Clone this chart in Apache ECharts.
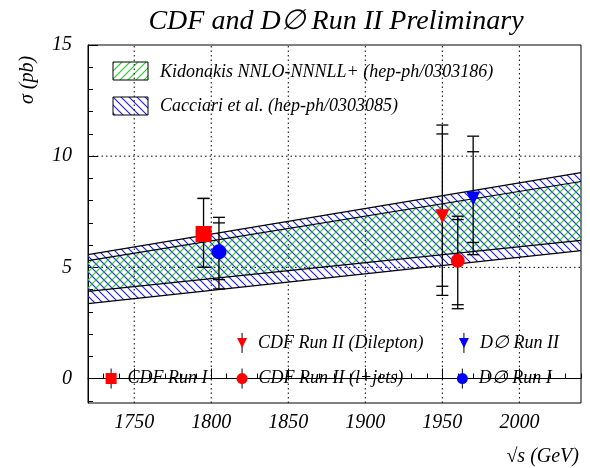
<!DOCTYPE html>
<html><head><meta charset="utf-8">
<script src="https://cdn.jsdelivr.net/npm/echarts@6/dist/echarts.min.js"></script>
<style>html,body{margin:0;padding:0;background:#fff}#c{width:590px;height:468px}</style>
</head><body><div id="c"></div>
<script>
const bandX = [1720, 2040];
const cacciariLow = [3.37, 5.75];
const cacciariHigh = [5.57, 9.26];
const kidonakisLow = [3.92, 6.21];
const kidonakisHigh = [5.30, 8.86];
// [x, y, totalLow, statLow, statHigh, totalHigh]
const cdfRun1 = [[1795, 6.5, 5.0, 5.0, 8.1, 8.1]];
const d0Run1 = [[1805, 5.7, 4.03, 4.45, 7.0, 7.25]];
const cdfDilepton = [[1950, 7.3, 3.74, 4.15, 11.0, 11.4]];
const cdfLjets = [[1960, 5.3, 3.14, 3.32, 7.15, 7.3]];
const d0Run2 = [[1970, 8.1, 5.57, 6.12, 10.2, 10.9]];
const xTicks = [1750, 1800, 1850, 1900, 1950, 2000];
const yTicks = [0, 5, 10, 15];
const FONT = 'Liberation Serif';

function hatch(color, dir) {
  const c = document.createElement('canvas'); c.width = 8; c.height = 8;
  const g = c.getContext('2d'); g.strokeStyle = color; g.lineWidth = 1.1;
  g.beginPath();
  if (dir > 0) { g.moveTo(0, 0); g.lineTo(8, 8); g.moveTo(-4, 4); g.lineTo(4, 12); g.moveTo(4, -4); g.lineTo(12, 4); }
  else { g.moveTo(0, 8); g.lineTo(8, 0); g.moveTo(-4, 4); g.lineTo(4, -4); g.moveTo(4, 12); g.lineTo(12, 4); }
  g.stroke();
  return { type: 'pattern', image: c, repeat: 'repeat' };
}
const blueH = hatch('#1a1aff', 1);
const greenH = hatch('#20d020', -1);

function bandSeries(low, high, fill, z) {
  return { type: 'custom', z: z, silent: true, data: [0],
    renderItem: (p, api) => {
      const pts = [api.coord([bandX[0], low[0]]), api.coord([bandX[1], low[1]]),
                   api.coord([bandX[1], high[1]]), api.coord([bandX[0], high[0]])];
      return { type: 'group', children: [
        { type: 'polygon', shape: { points: pts }, style: { fill: fill, stroke: null } },
        { type: 'polyline', shape: { points: [pts[0], pts[1]] }, style: { stroke: '#000', lineWidth: 1.2, fill: null } },
        { type: 'polyline', shape: { points: [pts[3], pts[2]] }, style: { stroke: '#000', lineWidth: 1.2, fill: null } }
      ] };
    } };
}
function errSeries(data) {
  return { type: 'custom', z: 5, silent: true, data: data,
    renderItem: (p, api) => {
      const x = api.value(0);
      const top = api.coord([x, api.value(5)]), bot = api.coord([x, api.value(2)]);
      const ch = [{ type: 'line', shape: { x1: top[0], y1: top[1], x2: bot[0], y2: bot[1] }, style: { stroke: '#000', lineWidth: 1.3 } }];
      [2, 3, 4, 5].forEach(i => {
        const q = api.coord([x, api.value(i)]);
        ch.push({ type: 'line', shape: { x1: q[0] - 6, y1: q[1], x2: q[0] + 6, y2: q[1] }, style: { stroke: '#000', lineWidth: 1.3 } });
      });
      return { type: 'group', children: ch };
    } };
}
function pt(data, symbol, color, size, rot) {
  return { type: 'scatter', z: 10, data: data.map(d => [d[0], d[1]]), symbol: symbol, symbolSize: size,
    symbolRotate: rot || 0, itemStyle: { color: color, opacity: 1 }, silent: true };
}
function leg(x, y, symbol, color, size, rot, text) {
  return { type: 'scatter', z: 10, data: [[x, y]], symbol: symbol, symbolSize: size, symbolRotate: rot || 0,
    itemStyle: { color: color, opacity: 1 }, silent: true,
    label: { show: true, position: 'right', distance: 10, formatter: text, color: '#000',
      fontFamily: FONT, fontStyle: 'italic', fontSize: 18, padding: [0, 1] } };
}
const legErr = { type: 'custom', z: 9, silent: true, data: [[1735, 0], [1820, 0], [1963, 0], [1820, 1.6], [1964, 1.6]],
  renderItem: (p, api) => { const q = api.coord([api.value(0), api.value(1)]);
    return { type: 'line', shape: { x1: q[0], y1: q[1] - 10, x2: q[0], y2: q[1] + 10 }, style: { stroke: '#000', lineWidth: 1 } }; } };

const gridX = xTicks;
const gridY = [0, 5, 10];
const gridLines = { type: 'custom', z: 1, silent: true, data: [0],
  renderItem: (p, api) => {
    const ch = [];
    const dash = { stroke: '#000', lineWidth: 1, lineDash: [1.5, 3] };
    gridX.forEach(v => { const a = api.coord([v, -1.1]), b = api.coord([v, 15]);
      ch.push({ type: 'line', shape: { x1: a[0], y1: a[1], x2: b[0], y2: b[1] }, style: dash }); });
    gridY.forEach(v => { const a = api.coord([1720, v]), b = api.coord([2040, v]);
      ch.push({ type: 'line', shape: { x1: a[0], y1: a[1], x2: b[0], y2: b[1] }, style: dash }); });
    return { type: 'group', children: ch };
  } };

const chart = echarts.init(document.getElementById('c'));
chart.setOption({
  animation: false,
  title: { text: 'CDF and D∅ Run II Preliminary', left: 331, top: 3, textAlign: 'center',
    textStyle: { fontFamily: FONT, fontStyle: 'italic', fontWeight: 'normal', fontSize: 28, color: '#000' } },
  grid: { left: 88, right: 9, top: 45, bottom: 65, show: true, borderColor: '#000', borderWidth: 1, backgroundColor: 'transparent', containLabel: false, outerBoundsMode: 'none' },
  xAxis: [
    { type: 'value', min: 1720, max: 2040, splitLine: { show: false },
      axisLine: { lineStyle: { color: '#000' } },
      axisTick: { inside: true, length: 10, customValues: xTicks, lineStyle: { color: '#000' } },
      axisLabel: { customValues: xTicks, formatter: v => String(v), fontFamily: FONT, fontStyle: 'italic', fontSize: 20, color: '#000', margin: 10 } },
    { type: 'value', min: 1720, max: 2040, position: 'bottom', gridIndex: 0, axisLine: { show: false }, splitLine: { show: false },
      axisLabel: { show: false },
      axisTick: { inside: true, length: 5, customValues: Array.from({ length: 32 }, (_, i) => 1730 + 10 * i), lineStyle: { color: '#000' } } }
  ],
  yAxis: [
    { type: 'value', min: -1.1, max: 15, splitLine: { show: false },
      axisLine: { lineStyle: { color: '#000' } },
      axisTick: { inside: true, length: 10, customValues: yTicks, lineStyle: { color: '#000' } },
      axisLabel: { customValues: yTicks, fontFamily: FONT, fontStyle: 'italic', fontSize: 20, color: '#000', margin: 16 } },
    { type: 'value', min: -1.1, max: 15, position: 'left', axisLine: { show: false }, splitLine: { show: false },
      axisLabel: { show: false },
      axisTick: { inside: true, length: 5, customValues: Array.from({ length: 16 }, (_, i) => -1 + i), lineStyle: { color: '#000' } } }
  ],
  graphic: [
    { type: 'text', x: 28, y: 80, rotation: Math.PI / 2, style: { text: 'σ (pb)', fontFamily: FONT, fontStyle: 'italic', fontSize: 20, fill: '#000', align: 'center', verticalAlign: 'middle' } },
    { type: 'text', x: 579, y: 457, style: { text: '√s (GeV)', fontFamily: FONT, fontStyle: 'italic', fontSize: 20, fill: '#000', align: 'right', verticalAlign: 'middle' } },
    { type: 'rect', shape: { x: 113, y: 62, width: 35, height: 18 }, style: { fill: greenH, stroke: '#000', lineWidth: 1 } },
    { type: 'text', x: 160, y: 72, style: { text: 'Kidonakis NNLO-NNNLL+ (hep-ph/0303186)', fontFamily: FONT, fontStyle: 'italic', fontSize: 18, fill: '#000', verticalAlign: 'middle' } },
    { type: 'rect', shape: { x: 113, y: 97, width: 35, height: 18 }, style: { fill: blueH, stroke: '#000', lineWidth: 1 } },
    { type: 'text', x: 160, y: 106, style: { text: 'Cacciari et al. (hep-ph/0303085)', fontFamily: FONT, fontStyle: 'italic', fontSize: 18, fill: '#000', verticalAlign: 'middle' } }
  ],
  series: [
    gridLines,
    bandSeries(cacciariLow, cacciariHigh, blueH, 2),
    bandSeries(kidonakisLow, kidonakisHigh, greenH, 3),
    errSeries(cdfRun1), errSeries(d0Run1), errSeries(cdfDilepton), errSeries(cdfLjets), errSeries(d0Run2),
    pt(cdfRun1, 'rect', '#ff0000', 16),
    pt(d0Run1, 'circle', '#0000ff', 15),
    pt(cdfDilepton, 'triangle', '#ff0000', 14, 180),
    pt(cdfLjets, 'circle', '#ff0000', 14),
    pt(d0Run2, 'triangle', '#0000ff', 14, 180),
    legErr,
    leg(1735, 0, 'rect', '#ff0000', 11, 0, 'CDF Run I'),
    leg(1820, 0, 'circle', '#ff0000', 11, 0, 'CDF Run II (l+jets)'),
    leg(1963, 0, 'circle', '#0000ff', 11, 0, 'D∅ Run I'),
    leg(1820, 1.6, 'triangle', '#ff0000', 10, 180, 'CDF Run II (Dilepton)'),
    leg(1964, 1.6, 'triangle', '#0000ff', 10, 180, 'D∅ Run II')
  ]
});
</script></body></html>
